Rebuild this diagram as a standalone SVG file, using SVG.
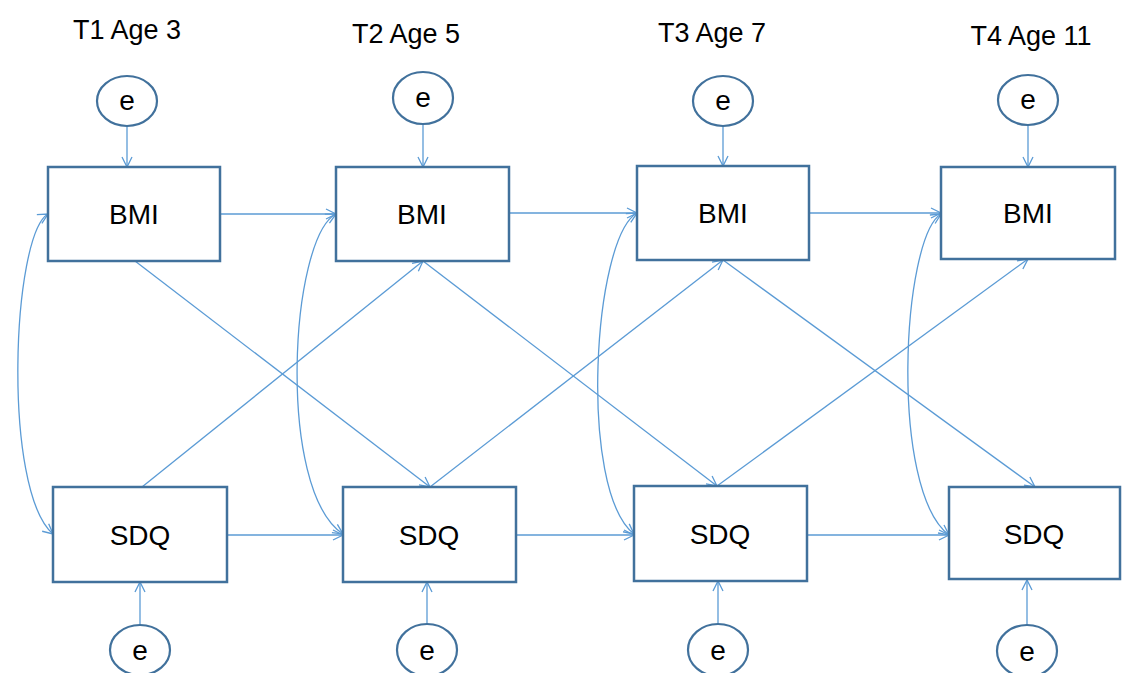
<svg xmlns="http://www.w3.org/2000/svg" width="1122" height="673" viewBox="0 0 1122 673">
<style>
.box{fill:#fff;stroke:#41719C;stroke-width:2.5}
.err{fill:#fff;stroke:#41719C;stroke-width:2.2}
.lbl{font-family:"Liberation Sans",Arial,sans-serif;font-size:28px;fill:#000;text-anchor:middle}
.ttl{font-family:"Liberation Sans",Arial,sans-serif;font-size:27px;fill:#000;text-anchor:middle}
.c{fill:none;stroke:#5B9BD5;stroke-width:1.3}
</style>
<defs>
<marker id="ah" markerUnits="userSpaceOnUse" markerWidth="14" markerHeight="14" viewBox="-12 -7 14 14" refX="0" refY="0" orient="auto-start-reverse">
<path d="M-10,-5 L0,0 L-10,5" fill="none" stroke="#5B9BD5" stroke-width="1.3"/>
</marker>
</defs>
<rect width="1122" height="673" fill="#fff"/>
<g id="titles">
<text class="ttl" x="127" y="39">T1 Age 3</text>
<text class="ttl" x="406" y="43">T2 Age 5</text>
<text class="ttl" x="712" y="42">T3 Age 7</text>
<text class="ttl" x="1031" y="45">T4 Age 11</text>
</g>
<g id="connectors">
<path class="c" d="M127,126 L127,167" marker-end="url(#ah)"/>
<path class="c" d="M423,124 L423,167" marker-end="url(#ah)"/>
<path class="c" d="M723,126 L723,166" marker-end="url(#ah)"/>
<path class="c" d="M1028,125 L1028,167" marker-end="url(#ah)"/>
<path class="c" d="M140,625 L140,582" marker-end="url(#ah)"/>
<path class="c" d="M427,624 L427,582" marker-end="url(#ah)"/>
<path class="c" d="M718,624 L718,581" marker-end="url(#ah)"/>
<path class="c" d="M1027,625 L1027,580" marker-end="url(#ah)"/>
<path class="c" d="M220,214 L336,214" marker-end="url(#ah)"/>
<path class="c" d="M509,213 L637,213" marker-end="url(#ah)"/>
<path class="c" d="M808,213 L941,213" marker-end="url(#ah)"/>
<path class="c" d="M227,535 L343,535" marker-end="url(#ah)"/>
<path class="c" d="M516,535 L634,535" marker-end="url(#ah)"/>
<path class="c" d="M807,535 L949,535" marker-end="url(#ah)"/>
<path class="c" d="M135,261 L430,487" marker-end="url(#ah)"/>
<path class="c" d="M142,487 L423,261" marker-end="url(#ah)"/>
<path class="c" d="M423,261 L717,486" marker-end="url(#ah)"/>
<path class="c" d="M430,487 L723,260" marker-end="url(#ah)"/>
<path class="c" d="M723,260 L1035,487" marker-end="url(#ah)"/>
<path class="c" d="M717,486 L1028,259" marker-end="url(#ah)"/>
<path class="c" d="M48,214 C12,235 2,490 53,534" marker-start="url(#ah)" marker-end="url(#ah)"/>
<path class="c" d="M336,214 C290,238 276,490 343,534" marker-start="url(#ah)" marker-end="url(#ah)"/>
<path class="c" d="M637,213 C593,238 578,490 634,534" marker-start="url(#ah)" marker-end="url(#ah)"/>
<path class="c" d="M941,214 C902,238 889,490 949,535" marker-start="url(#ah)" marker-end="url(#ah)"/>
</g>
<g id="bmi1"><rect class="box" x="48" y="167" width="172" height="94"/><text class="lbl" x="134" y="224">BMI</text></g>
<g id="bmi2"><rect class="box" x="336" y="167" width="173" height="94"/><text class="lbl" x="422" y="224">BMI</text></g>
<g id="bmi3"><rect class="box" x="637" y="166" width="172" height="94"/><text class="lbl" x="723" y="223">BMI</text></g>
<g id="bmi4"><rect class="box" x="941" y="167" width="174" height="92"/><text class="lbl" x="1028" y="223">BMI</text></g>
<g id="sdq1"><rect class="box" x="53" y="487" width="174" height="95"/><text class="lbl" x="140" y="545">SDQ</text></g>
<g id="sdq2"><rect class="box" x="343" y="487" width="173" height="95"/><text class="lbl" x="429" y="545">SDQ</text></g>
<g id="sdq3"><rect class="box" x="634" y="486" width="173" height="95"/><text class="lbl" x="720" y="544">SDQ</text></g>
<g id="sdq4"><rect class="box" x="949" y="487" width="171" height="92"/><text class="lbl" x="1034" y="544">SDQ</text></g>
<g id="e_bmi1"><ellipse class="err" cx="127" cy="101" rx="30" ry="25"/><text class="lbl" x="127" y="110">e</text></g>
<g id="e_bmi2"><ellipse class="err" cx="423" cy="98" rx="30" ry="26"/><text class="lbl" x="423" y="107">e</text></g>
<g id="e_bmi3"><ellipse class="err" cx="723" cy="101" rx="30" ry="25"/><text class="lbl" x="723" y="110">e</text></g>
<g id="e_bmi4"><ellipse class="err" cx="1028" cy="100" rx="30" ry="25"/><text class="lbl" x="1028" y="109">e</text></g>
<g id="e_sdq1"><ellipse class="err" cx="140" cy="650" rx="30" ry="25"/><text class="lbl" x="140" y="660">e</text></g>
<g id="e_sdq2"><ellipse class="err" cx="427" cy="650" rx="30" ry="26"/><text class="lbl" x="427" y="660">e</text></g>
<g id="e_sdq3"><ellipse class="err" cx="718" cy="650" rx="30" ry="26"/><text class="lbl" x="718" y="660">e</text></g>
<g id="e_sdq4"><ellipse class="err" cx="1027" cy="651" rx="30" ry="26"/><text class="lbl" x="1027" y="661">e</text></g>
</svg>
